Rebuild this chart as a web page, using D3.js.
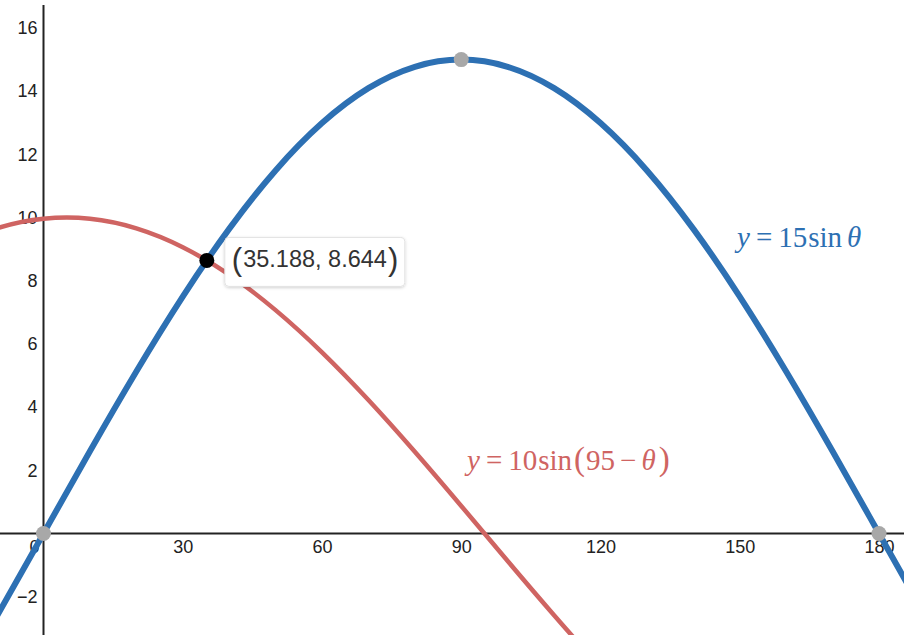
<!DOCTYPE html>
<html>
<head>
<meta charset="utf-8">
<script src="https://cdn.jsdelivr.net/npm/d3@7"></script>
<style>
  body { margin: 0; background: #fff; }
  svg { display: block; }
</style>
</head>
<body>
<div id="graph"></div>
<script>
var theta = [-20, -10, 0, 10, 20, 30, 40, 50, 60, 70, 80, 90, 100, 110, 120, 130, 140, 150, 160, 170, 180, 190];
var blueY = [-5.130, -2.605, 0, 2.605, 5.130, 7.5, 9.642, 11.491, 12.990, 14.095, 14.772, 15, 14.772, 14.095, 12.990, 11.491, 9.642, 7.5, 5.130, 2.605, 0, -2.605];
var redTheta = [-20, -10, 0, 10, 20, 30, 40, 50, 60, 70, 80, 90, 100, 110, 120, 130];
var redY = [9.063, 9.659, 9.962, 9.962, 9.659, 9.063, 8.192, 7.071, 5.736, 4.226, 2.588, 0.872, -0.872, -2.588, -4.226, -5.736];

var grayPoints = [[0, 0], [90, 15], [180, 0]];
var intersection = [35.188, 8.644];

var xTicks = [30, 60, 90, 120, 150, 180];
var yTicks = [-2, 2, 4, 6, 8, 10, 12, 14, 16];

var width = 904, height = 635;
var tickFont = "Arial, 'Liberation Sans', sans-serif";

var svg = d3.select("#graph").append("svg")
  .attr("width", width)
  .attr("height", height);

var x = d3.scaleLinear().domain([0, 180]).range([43.5, 879]);
var y = d3.scaleLinear().domain([0, 16]).range([533.5, 28]);

// shadow for the coordinate label
var defs = svg.append("defs");
var f = defs.append("filter").attr("id", "shadow")
  .attr("x", "-10%").attr("y", "-20%").attr("width", "120%").attr("height", "150%");
f.append("feDropShadow").attr("dx", 0).attr("dy", 1).attr("stdDeviation", 1.5)
  .attr("flood-color", "#000").attr("flood-opacity", 0.18);
defs.append("clipPath").attr("id", "clip")
  .append("rect").attr("width", width).attr("height", height);

// axis lines
svg.append("line")
  .attr("x1", 0).attr("x2", width)
  .attr("y1", y(0)).attr("y2", y(0))
  .attr("stroke", "#222").attr("stroke-width", 2);
svg.append("line")
  .attr("x1", x(0)).attr("x2", x(0))
  .attr("y1", 5).attr("y2", height)
  .attr("stroke", "#222").attr("stroke-width", 2);

// tick labels (no tick marks)
var xAxis = svg.append("g")
  .attr("transform", "translate(0," + y(0) + ")")
  .call(d3.axisBottom(x).tickValues(xTicks).tickSize(0).tickPadding(7));
xAxis.select(".domain").remove();

var yAxis = svg.append("g")
  .attr("transform", "translate(" + x(0) + ",0)")
  .call(d3.axisLeft(y).tickValues(yTicks).tickSize(0).tickPadding(6));
yAxis.select(".domain").remove();

svg.selectAll(".tick text")
  .style("font-family", tickFont)
  .style("font-size", "18px")
  .style("fill", "#222");

svg.append("text")
  .attr("x", x(0) - 4).attr("y", y(0) + 7).attr("dy", "0.71em")
  .attr("text-anchor", "end")
  .style("font-family", tickFont)
  .style("font-size", "18px").style("fill", "#222")
  .text("0");

var line = d3.line()
  .x(function (d) { return x(d[0]); })
  .y(function (d) { return y(d[1]); })
  .curve(d3.curveNatural);

var plot = svg.append("g").attr("clip-path", "url(#clip)");

plot.append("path")
  .datum(redTheta.map(function (t, i) { return [t, redY[i]]; }))
  .attr("d", line)
  .attr("fill", "none")
  .attr("stroke", "#cf6462")
  .attr("stroke-width", 4.5);

plot.append("path")
  .datum(theta.map(function (t, i) { return [t, blueY[i]]; }))
  .attr("d", line)
  .attr("fill", "none")
  .attr("stroke", "#2d70b3")
  .attr("stroke-width", 6);

plot.selectAll(".gray")
  .data(grayPoints)
  .enter().append("circle")
  .attr("cx", function (d) { return x(d[0]); })
  .attr("cy", function (d) { return y(d[1]); })
  .attr("r", 7.5)
  .attr("fill", "#a8a8a8");

plot.append("circle")
  .attr("cx", x(intersection[0]))
  .attr("cy", y(intersection[1]))
  .attr("r", 7.5)
  .attr("fill", "#000");

// coordinate label
var lx = x(intersection[0]) + 18, ly = y(intersection[1]);
var lab = svg.append("g").attr("transform", "translate(" + lx + "," + ly + ")");
lab.append("rect")
  .attr("x", 0).attr("y", -23).attr("width", 180).attr("height", 49)
  .attr("rx", 4)
  .attr("fill", "#fff").attr("stroke", "#e2e2e2")
  .attr("filter", "url(#shadow)");
var lt = lab.append("text")
  .attr("x", 7).attr("y", 0).attr("dy", "0.36em")
  .style("font-family", tickFont)
  .style("fill", "#333");
lt.append("tspan").style("font-size", "31px").attr("dy", "0.3em").text("(");
lt.append("tspan").style("font-size", "23.5px").attr("dx", 1).attr("dy", "-0.1em").text(intersection[0].toFixed(3) + ", " + intersection[1].toFixed(3));
lt.append("tspan").style("font-size", "31px").attr("dx", 1).attr("dy", "0.08em").text(")");

// equation labels
function eqLabel(px, py, color, parts) {
  var t = svg.append("text")
    .attr("x", px).attr("y", py)
    .style("font-family", "'Times New Roman', 'Liberation Serif', serif")
    .style("font-size", "29px")
    .style("fill", color);
  parts.forEach(function (p) {
    t.append("tspan")
      .style("font-style", p[1] ? "italic" : "normal")
      .style("font-size", p[2] || null)
      .attr("dx", p[3] || 0)
      .text(p[0]);
  });
}

eqLabel(737, 247, "#2d70b3", [["y", true], ["=", false, null, 6], ["15", false, null, 6], ["sin", false, null, 1], ["\u03b8", true, null, 5]]);
eqLabel(467, 470, "#cf6462", [["y", true], ["=", false, null, 6], ["10", false, null, 6], ["sin", false, null, 1], ["(", false, "33px", 2], ["95", false, null, 1], ["\u2212", false, null, 5], ["\u03b8", true, null, 5], [")", false, "33px", 3]]);
</script>
</body>
</html>
